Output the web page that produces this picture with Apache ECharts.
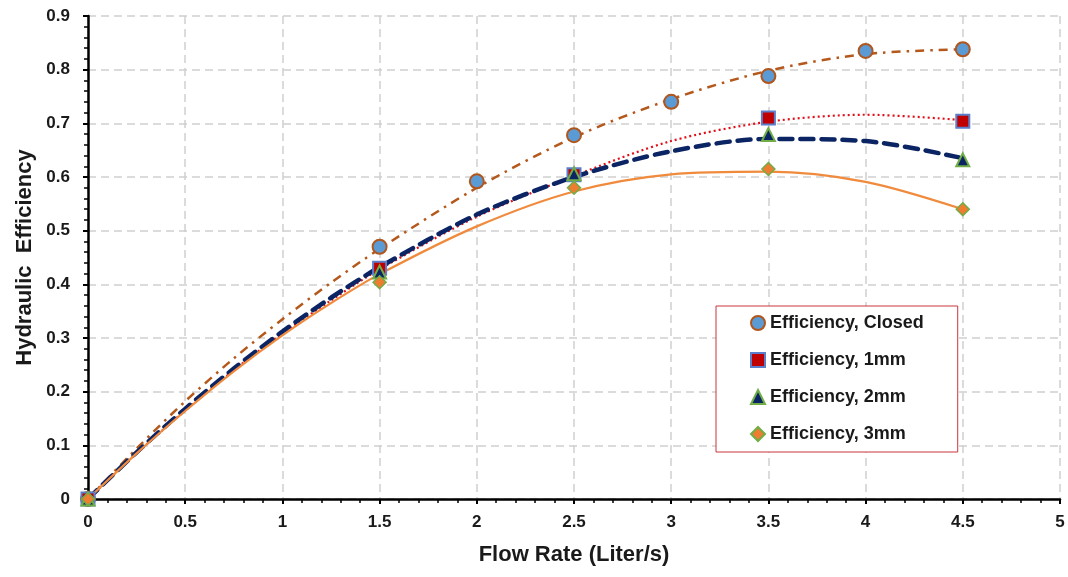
<!DOCTYPE html>
<html>
<head>
<meta charset="utf-8">
<script src="https://cdn.jsdelivr.net/npm/echarts@6/dist/echarts.min.js"></script>
<style>
  html, body { margin: 0; padding: 0; background: #fff; }
  #chart { width: 1068px; height: 577px; }
</style>
</head>
<body>
<div id="chart"></div>
<script>
  // measured points
  let flowX = [0, 1.5, 2, 2.5, 3, 3.5, 4, 4.5]
  let effClosed = [0, 0.47, 0.592, 0.678, 0.74, 0.788, 0.835, 0.838]
  let flowGap = [0, 1.5, 2.5, 3.5, 4.5]
  let eff1mm = [0, 0.43, 0.604, 0.71, 0.704]
  let eff2mm = [0, 0.423, 0.606, 0.679, 0.632]
  let eff3mm = [0, 0.404, 0.58, 0.615, 0.54]

  // trendlines
  let trendX = [0, 0.25, 0.5, 0.75, 1, 1.25, 1.5, 2, 2.5, 3, 3.5, 4, 4.5]
  let trendClosed = [0, 0.094, 0.182, 0.262, 0.335, 0.403, 0.466, 0.58, 0.674, 0.745, 0.798, 0.829, 0.838]
  let trend1mm = [0, 0.085, 0.165, 0.24, 0.308, 0.37, 0.428, 0.526, 0.602, 0.667, 0.703, 0.716, 0.706]
  let trend2mm = [0, 0.087, 0.168, 0.243, 0.312, 0.375, 0.432, 0.53, 0.6, 0.648, 0.671, 0.667, 0.635]
  let trend3mm = [0, 0.085, 0.164, 0.238, 0.305, 0.365, 0.419, 0.508, 0.573, 0.605, 0.61, 0.591, 0.54]

  let names = ['Efficiency, Closed', 'Efficiency, 1mm', 'Efficiency, 2mm', 'Efficiency, 3mm']
  let font = 'Liberation Sans'
  let txt = '#1a1a1a'

  function pairs(xs, ys) {
    return xs.map((x, i) => [x, ys[i]])
  }

  function trend(data, color, width, type, cap) {
    return {
      type: 'line',
      data: data,
      smooth: 0.3,
      showSymbol: false,
      silent: true,
      z: 2,
      lineStyle: { color: color, width: width, type: type, cap: cap || 'butt' }
    }
  }

  function dots(name, data, symbol, size, fill, border, bw) {
    return {
      name: name,
      type: 'scatter',
      data: data,
      symbol: symbol,
      symbolSize: size,
      z: 5,
      itemStyle: { color: fill, borderColor: border, borderWidth: bw, opacity: 1 }
    }
  }

  let baseAxis = {
    type: 'value',
    min: 0
  }

  let option = {
    animation: false,
    backgroundColor: '#fff',
    textStyle: { fontFamily: font },
    grid: { left: 88, right: 8, top: 16, bottom: 78 },
    legend: {
      data: names,
      orient: 'vertical',
      left: 716,
      top: 306,
      itemWidth: 14,
      itemHeight: 14,
      itemGap: 19,
      padding: [8, 34, 9, 34],
      backgroundColor: '#fff',
      borderColor: '#c8363a',
      borderWidth: 1,
      textStyle: { fontFamily: font, fontSize: 18, fontWeight: 'bold', color: txt }
    },
    xAxis: [
      Object.assign({}, baseAxis, {
        max: 5,
        interval: 0.5,
        name: 'Flow Rate (Liter/s)',
        nameLocation: 'middle',
        nameGap: 45,
        nameTextStyle: { fontFamily: font, fontSize: 22, fontWeight: 'bold', color: txt },
        axisLine: { onZero: false, lineStyle: { color: '#000', width: 2.5 } },
        axisTick: { show: true, length: 5, lineStyle: { color: '#000', width: 2 } },
        axisLabel: { margin: 15, fontSize: 17, fontWeight: 'bold', color: txt, fontFamily: font },
        splitLine: { show: true, lineStyle: { color: '#cfcfcf', width: 1.5, type: [8, 5] } }
      }),
      Object.assign({}, baseAxis, {
        max: 5,
        interval: 0.5,
        axisLine: { show: false },
        axisLabel: { show: false },
        splitLine: { show: false },
        axisTick: { show: true, inside: true, length: 5, lineStyle: { color: '#000', width: 2 } },
        minorTick: { show: true, splitNumber: 5, length: 4, lineStyle: { color: '#000', width: 1.5 } }
      })
    ],
    yAxis: [
      Object.assign({}, baseAxis, {
        max: 0.9,
        interval: 0.1,
        name: 'Hydraulic  Efficiency',
        nameLocation: 'middle',
        nameRotate: 90,
        nameGap: 52,
        nameTextStyle: { fontFamily: font, fontSize: 22, fontWeight: 'bold', color: txt },
        axisLine: { onZero: false, lineStyle: { color: '#000', width: 2.5 } },
        axisTick: { show: true, length: 5, lineStyle: { color: '#000', width: 2 } },
        axisLabel: {
          margin: 18,
          fontSize: 17,
          fontWeight: 'bold',
          color: txt,
          fontFamily: font,
          formatter: v => String(Math.round(v * 10) / 10)
        },
        splitLine: { show: true, lineStyle: { color: '#cfcfcf', width: 1.5, type: [8, 5] } }
      }),
      Object.assign({}, baseAxis, {
        max: 0.9,
        interval: 0.1,
        axisLine: { show: false },
        axisLabel: { show: false },
        splitLine: { show: false },
        axisTick: { show: true, inside: true, length: 5, lineStyle: { color: '#000', width: 2 } },
        minorTick: { show: true, splitNumber: 5, length: 4, lineStyle: { color: '#000', width: 1.5 } }
      })
    ],
    series: [
      trend(pairs(trendX, trendClosed), '#b5581b', 2.5, [9, 6, 2.5, 6]),
      trend(pairs(trendX, trend1mm), '#e0101a', 2.2, [2, 3]),
      trend(pairs(trendX, trend2mm), '#0b2463', 4.5, [13, 8], 'round'),
      trend(pairs(trendX, trend3mm), '#f08a3c', 2.2, 'solid'),
      dots(names[0], pairs(flowX, effClosed), 'circle', 14, '#5b9bd5', '#b0561d', 2),
      dots(names[1], pairs(flowGap, eff1mm), 'rect', 13, '#c00000', '#5b7fcb', 2),
      dots(names[2], pairs(flowGap, eff2mm), 'triangle', 13, '#0b2463', '#70ad47', 2),
      dots(names[3], pairs(flowGap, eff3mm), 'diamond', 13, '#ed7d31', '#70ad47', 1.5)
    ]
  }

  echarts.init(document.getElementById('chart')).setOption(option)
</script>
</body>
</html>
